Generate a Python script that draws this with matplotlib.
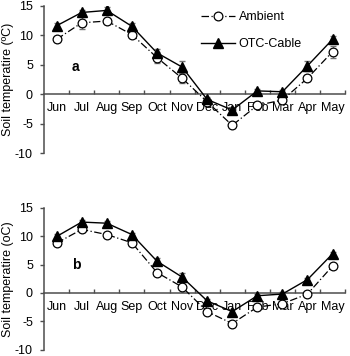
import numpy as np
import matplotlib
matplotlib.use('Agg')
import matplotlib.pyplot as plt
from matplotlib.ticker import FixedLocator, NullFormatter

plt.rcParams['font.family'] = ['Liberation Sans', 'DejaVu Sans']
plt.rcParams['axes.unicode_minus'] = False

months = ['Jun', 'Jul', 'Aug', 'Sep', 'Oct', 'Nov', 'Dec', 'Jan', 'Feb', 'Mar', 'Apr', 'May']

# panel a
ambient_a = [9.3, 12.1, 12.4, 10.1, 6.2, 2.7, -1.3, -5.3, -1.9, -1.0, 2.7, 7.2]
ambient_a_err = [0.4, 1.0, 0.5, 0.4, 1.0, 0.8, 0.4, 0.5, 0.4, 0.5, 0.5, 1.0]
otc_a = [11.6, 13.85, 14.2, 11.5, 7.0, 4.6, -0.9, -2.7, 0.55, 0.4, 4.8, 9.3]
otc_a_err = [0.4, 0.5, 0.5, 0.5, 0.6, 1.0, 0.4, 0.5, 0.3, 0.3, 0.8, 0.6]

# panel b
ambient_b = [8.8, 11.2, 10.3, 8.85, 3.6, 1.05, -3.3, -5.4, -2.5, -1.9, -0.2, 4.75]
ambient_b_err = [0.3, 0.4, 0.3, 0.3, 0.4, 0.4, 0.3, 0.4, 0.3, 0.3, 0.3, 0.4]
otc_b = [9.96, 12.5, 12.3, 10.3, 5.6, 2.8, -1.4, -3.3, -0.5, -0.2, 2.35, 6.9]
otc_b_err = [0.4, 0.4, 0.4, 0.3, 0.5, 0.8, 0.3, 0.4, 0.3, 0.3, 0.3, 0.4]

x = np.arange(len(months)) + 0.5

fig = plt.figure(figsize=(3.5, 3.56), dpi=100)
ax_a = fig.add_axes([0.126, 0.570, 0.86, 0.414])
ax_b = fig.add_axes([0.126, 0.018, 0.86, 0.398])


def panel(ax, amb, amb_err, otc, otc_err, ylabel, letter, letter_y):
    ax.errorbar(x, amb, yerr=amb_err, fmt='none', ecolor='0.45', elinewidth=0.7,
                capsize=2, zorder=2)
    ax.errorbar(x, otc, yerr=otc_err, fmt='none', ecolor='0.45', elinewidth=0.7,
                capsize=2, zorder=2)
    ax.plot(x, amb, color='black', ls=(0, (6, 2, 1, 2)), lw=0.9,
            marker='o', ms=6.3, mfc='white', mec='black', mew=0.9,
            label='Ambient', zorder=3)
    ax.plot(x, otc, color='black', ls='-', lw=1.0,
            marker='^', ms=7, mfc='black', mec='black',
            label='OTC-Cable', zorder=4)
    ax.set_xlim(0, 12)
    ax.set_ylim(-10, 15)
    ax.set_yticks([-10, -5, 0, 5, 10, 15])
    ax.spines['top'].set_visible(False)
    ax.spines['right'].set_visible(False)
    ax.spines['bottom'].set_position(('data', 0))
    for s in ['left', 'bottom']:
        ax.spines[s].set_color('0.3')
        ax.spines[s].set_linewidth(1.1)
    ax.xaxis.set_major_locator(FixedLocator(np.arange(1, 13)))
    ax.xaxis.set_major_formatter(NullFormatter())
    ax.xaxis.set_minor_locator(FixedLocator(x))
    ax.set_xticklabels(months, minor=True)
    ax.tick_params(axis='x', which='major', direction='in', length=3, color='0.3', width=1)
    ax.tick_params(axis='x', which='minor', length=0, pad=6, labelsize=9)
    ax.tick_params(axis='y', direction='out', length=3, color='0.3', width=1,
                   labelsize=9, pad=5)
    ax.set_ylabel(ylabel, fontsize=9, labelpad=1)
    ax.text(1.1, letter_y, letter, fontsize=10, fontweight='bold', va='center')


panel(ax_a, ambient_a, ambient_a_err, otc_a, otc_a_err, 'Soil temperatire (ºC)', 'a', 4.6)
panel(ax_b, ambient_b, ambient_b_err, otc_b, otc_b_err, 'Soil temperatire (oC)', 'b', 5.0)

ax_a.legend(loc='upper left', bbox_to_anchor=(0.485, 1.04), frameon=False, fontsize=9,
            labelspacing=1.2, handlelength=2.7, handletextpad=0.3)

fig.savefig('out.png', dpi=100)
